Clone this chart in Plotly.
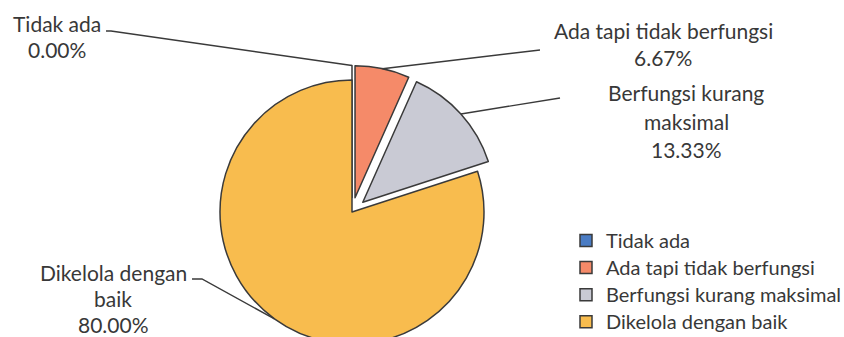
import math
import plotly.graph_objects as go

# ---- data -------------------------------------------------------------
categories = ["Tidak ada", "Ada tapi tidak berfungsi",
              "Berfungsi kurang maksimal", "Dikelola dengan baik"]
shares = [0.00, 6.67, 13.33, 80.00]
# how each category name wraps in its callout
label_lines = [["Tidak ada"], ["Ada tapi tidak berfungsi"],
               ["Berfungsi kurang", "maksimal"], ["Dikelola dengan", "baik"]]

# ---- styling ----------------------------------------------------------
colors = ["#4A7CC4", "#F58A69", "#C9CAD4", "#F8BC4E"]
pulls = [0.11, 0.11, 0.11, 0.0]
FONT = "Lato"
TEXT = "#383838"
LABEL_SIZE = 21
LEGEND_TEXT_SIZE = 20

W, H = 844, 360
CX, CY, R = 352, 212, 132          # pie centre / radius in px
half = R * (1 + max(pulls))
dom_x = [(CX - half) / W, (CX + half) / W]
dom_y = [max(0.0, 1 - (CY + half) / H), 1 - (CY - half) / H]


def px(x, y):
    return x / W, 1 - y / H


# callout layout: text centre x, first line y, line step, leader start, optional tick end
callouts = [
    dict(cx=57, y0=24, step=26, start=(106, 31), tick=(111, 31)),
    dict(cx=663, y0=30, step=28, start=(540, 50), tick=None),
    dict(cx=686, y0=93, step=28, start=(560, 98), tick=None),
    dict(cx=113, y0=272, step=26, start=(192, 279), tick=(202, 279)),
]

total = sum(shares)
cum = 0.0
annotations, shapes = [], []
for i, (cat, v) in enumerate(zip(categories, shares)):
    mid = (cum + v / 2) / total * 2 * math.pi
    cum += v
    rr = R * (1 + pulls[i])
    ex, ey = CX + rr * math.sin(mid), CY - rr * math.cos(mid)
    c = callouts[i]
    lines = label_lines[i] + [f"{v / total * 100:.2f}%"]
    for k, txt in enumerate(lines):
        x, y = px(c["cx"], c["y0"] + k * c["step"])
        annotations.append(dict(x=x, y=y, xref="paper", yref="paper", text=txt,
                                showarrow=False, xanchor="center", yanchor="middle",
                                font=dict(family=FONT, size=LABEL_SIZE, color=TEXT)))
    pts = [c["start"]] + ([c["tick"]] if c["tick"] else []) + [(ex, ey)]
    path = "M " + " L ".join("%.4f,%.4f" % px(*p) for p in pts)
    shapes.append(dict(type="path", path=path, xref="paper", yref="paper",
                       line=dict(color="#3a3a3a", width=1.4)))

legend_names = [f'<span style="font-size:{LEGEND_TEXT_SIZE}px">{c}</span>'
                for c in categories]

fig = go.Figure(go.Pie(
    labels=legend_names, values=shares, sort=False, direction="clockwise",
    rotation=0, pull=pulls, textinfo="none", hoverinfo="label+percent",
    marker=dict(colors=colors, line=dict(color="#3a3a3a", width=1.5)),
    domain=dict(x=dom_x, y=dom_y),
))

fig.update_layout(
    width=W, height=H,
    margin=dict(l=0, r=0, t=0, b=0, autoexpand=False),
    paper_bgcolor="white", plot_bgcolor="white",
    font=dict(family=FONT, color=TEXT),
    showlegend=True,
    legend=dict(orientation="v", x=566 / W, xanchor="left",
                y=1 - 222 / H, yanchor="top", traceorder="normal",
                bgcolor="rgba(0,0,0,0)",
                font=dict(family=FONT, size=18.5, color=TEXT)),
    annotations=annotations, shapes=shapes,
)

fig.write_html("out.html",
               post_script="document.documentElement.style.overflow='hidden';"
                           "document.body.style.overflow='hidden';")
